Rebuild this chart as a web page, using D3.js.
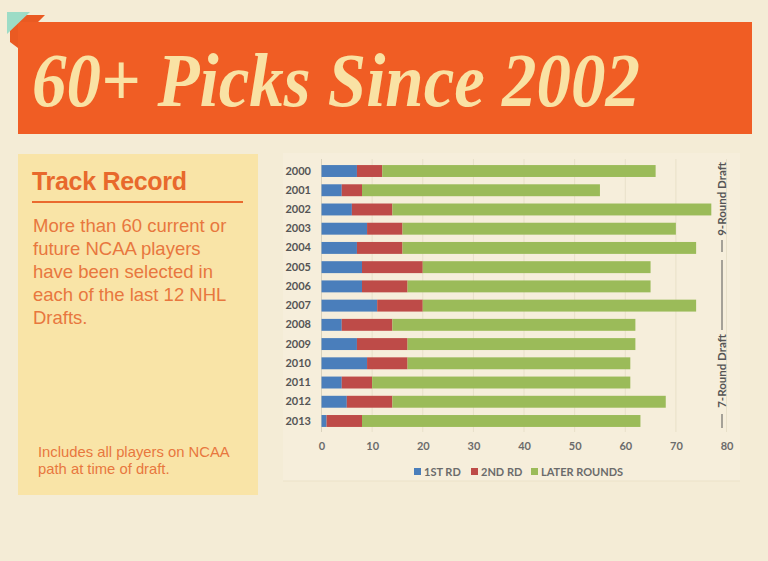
<!DOCTYPE html>
<html>
<head>
<meta charset="utf-8">
<script src="https://cdn.jsdelivr.net/npm/d3@7"></script>
<style>
  html, body { margin: 0; padding: 0; background: #f4ecd6; }
  svg { display: block; }
</style>
</head>
<body>
<div id="chart"></div>
<script>
// chart values
const years = ['2000','2001','2002','2003','2004','2005','2006','2007','2008','2009','2010','2011','2012','2013'];
const firstRound  = [7, 4, 6, 9, 7, 8, 8, 11, 4, 7, 9, 4, 5, 1];
const secondRound = [5, 4, 8, 7, 9, 12, 9, 9, 10, 10, 8, 6, 9, 7];
const laterRounds = [54, 47, 63, 54, 58, 45, 48, 54, 48, 45, 44, 51, 54, 55];
const xTicks = [0, 10, 20, 30, 40, 50, 60, 70, 80];
const seriesKeys = ['first', 'second', 'later'];
const seriesLabels = ['1ST RD', '2ND RD', 'LATER ROUNDS'];
const seriesColors = ['#4a7ebb', '#be4b48', '#9bbb59'];
const bodyLines = ['More than 60 current or', 'future NCAA players', 'have been selected in', 'each of the last 12 NHL', 'Drafts.'];
const noteLines = ['Includes all players on NCAA', 'path at time of draft.'];

const width = 768, height = 561;

const svg = d3.select('#chart').append('svg')
    .attr('width', width)
    .attr('height', height);

svg.append('rect')
    .attr('width', width).attr('height', height)
    .attr('fill', '#f4ecd6');

// title banner
const banner = svg.append('g').classed('banner', true);
banner.append('polygon')
    .attr('points', '10,15 45,15 38,22 18,22 18,48 10,42')
    .attr('fill', '#ea5a22');
banner.append('rect')
    .attr('x', 18).attr('y', 22)
    .attr('width', 734).attr('height', 112)
    .attr('fill', '#f05d24');
banner.append('polygon')
    .attr('points', '7,12 30,12 7,34')
    .attr('fill', '#9ddcc6');
banner.append('text')
    .attr('x', 32).attr('y', 106)
    .attr('textLength', 608)
    .attr('lengthAdjust', 'spacingAndGlyphs')
    .style('font-family', '"Liberation Serif", "DejaVu Serif", serif')
    .style('font-style', 'italic')
    .style('font-weight', 'bold')
    .style('font-size', '76px')
    .attr('fill', '#f9e2a4')
    .text('60+ Picks Since 2002');

// left side panel
const side = svg.append('g').classed('side', true);
side.append('rect')
    .attr('x', 18).attr('y', 154)
    .attr('width', 240).attr('height', 341)
    .attr('fill', '#f9e4a7');
side.append('text')
    .attr('x', 32).attr('y', 190)
    .style('font-family', '"Liberation Sans", Arial, sans-serif')
    .style('font-weight', 'bold')
    .style('font-size', '25px')
    .attr('textLength', 155)
    .attr('fill', '#e8692c')
    .text('Track Record');
side.append('line')
    .attr('x1', 32).attr('x2', 243)
    .attr('y1', 202).attr('y2', 202)
    .attr('stroke', '#ea6a2e')
    .attr('stroke-width', 2.2);
side.selectAll('text.body')
    .data(bodyLines)
    .join('text')
    .classed('body', true)
    .attr('x', 33)
    .attr('y', (d, i) => 232 + i * 23)
    .style('font-family', '"Liberation Sans", Arial, sans-serif')
    .style('font-size', '18.5px')
    .attr('fill', '#e8773e')
    .text(d => d);
side.selectAll('text.note')
    .data(noteLines)
    .join('text')
    .classed('note', true)
    .attr('x', 38)
    .attr('y', (d, i) => 457 + i * 17)
    .style('font-family', '"Liberation Sans", Arial, sans-serif')
    .style('font-size', '14.8px')
    .attr('fill', '#e8773e')
    .text(d => d);

// chart panel
svg.append('rect')
    .attr('x', 283).attr('y', 153)
    .attr('width', 457).attr('height', 328)
    .attr('fill', '#f6eedb');
svg.append('line')
    .attr('x1', 283).attr('x2', 740)
    .attr('y1', 481).attr('y2', 481)
    .attr('stroke', '#ebe2c8');

const rows = years.map((y, i) => ({
    year: y, first: firstRound[i], second: secondRound[i], later: laterRounds[i]
}));
const stacked = d3.stack().keys(seriesKeys)(rows);

const x = d3.scaleLinear()
    .domain([0, 80])
    .range([321.5, 726.5]);
const y = d3.scaleBand()
    .domain(years)
    .range([161.4, 430.6])
    .paddingInner(0.38)
    .paddingOuter(0.19);
const color = d3.scaleOrdinal().domain(seriesKeys).range(seriesColors);

const plot = svg.append('g').classed('plot', true);

// vertical grid
plot.append('g')
    .selectAll('line')
    .data(xTicks)
    .join('line')
    .attr('x1', d => x(d)).attr('x2', d => x(d))
    .attr('y1', 159).attr('y2', 432)
    .attr('stroke', d => d === 0 ? '#d9d2bd' : '#e8e0c9')
    .attr('stroke-width', 1);

plot.append('g')
    .selectAll('g')
    .data(stacked)
    .join('g')
    .attr('fill', d => color(d.key))
    .selectAll('rect')
    .data(d => d)
    .join('rect')
    .attr('x', d => x(d[0]))
    .attr('width', d => x(d[1]) - x(d[0]))
    .attr('y', d => y(d.data.year))
    .attr('height', y.bandwidth());

// axes
const xAxis = plot.append('g')
    .attr('transform', 'translate(0,432)')
    .call(d3.axisBottom(x).tickValues(xTicks).tickSize(0).tickPadding(10));
xAxis.select('.domain').remove();
xAxis.selectAll('text')
    .style('font-family', 'Lato, "Open Sans", sans-serif')
    .style('font-size', '11px')
    .style('font-weight', 'bold')
    .attr('fill', '#6b6b6b');

const yAxis = plot.append('g')
    .attr('transform', 'translate(311,0)')
    .call(d3.axisLeft(y).tickSize(0).tickPadding(0));
yAxis.select('.domain').remove();
yAxis.selectAll('text')
    .style('font-family', 'Lato, "Open Sans", sans-serif')
    .style('font-size', '11px')
    .style('font-weight', 'bold')
    .attr('fill', '#555');

// legend
const legendX = [414, 471, 531];
const legend = svg.append('g').classed('legend', true)
    .selectAll('g')
    .data(seriesLabels)
    .join('g')
    .attr('transform', (d, i) => `translate(${legendX[i]},472)`);
legend.append('rect')
    .attr('x', 0).attr('y', -4)
    .attr('width', 7).attr('height', 7)
    .attr('fill', (d, i) => seriesColors[i]);
legend.append('text')
    .attr('x', 10).attr('y', 4)
    .style('font-family', 'Lato, "Open Sans", sans-serif')
    .style('font-size', '11px')
    .style('font-weight', 'bold')
    .attr('fill', '#6b6b6b')
    .text(d => d);

// round brackets on the right
const note = svg.append('g').classed('rounds', true);
const noteX = 722;
[[240, 252], [260, 330], [414, 428]].forEach(([a, b]) => {
    note.append('line')
        .attr('x1', noteX).attr('x2', noteX)
        .attr('y1', a).attr('y2', b)
        .attr('stroke', '#555').attr('stroke-width', 1);
});
[['9-Round Draft', 199], ['7-Round Draft', 371]].forEach(([t, cy]) => {
    note.append('text')
        .attr('transform', `translate(${noteX + 4},${cy}) rotate(-90)`)
        .attr('text-anchor', 'middle')
        .style('font-family', 'Lato, "Open Sans", sans-serif')
        .style('font-size', '11.5px')
        .style('font-weight', 'bold')
        .attr('fill', '#555')
        .text(t);
});
</script>
</body>
</html>
